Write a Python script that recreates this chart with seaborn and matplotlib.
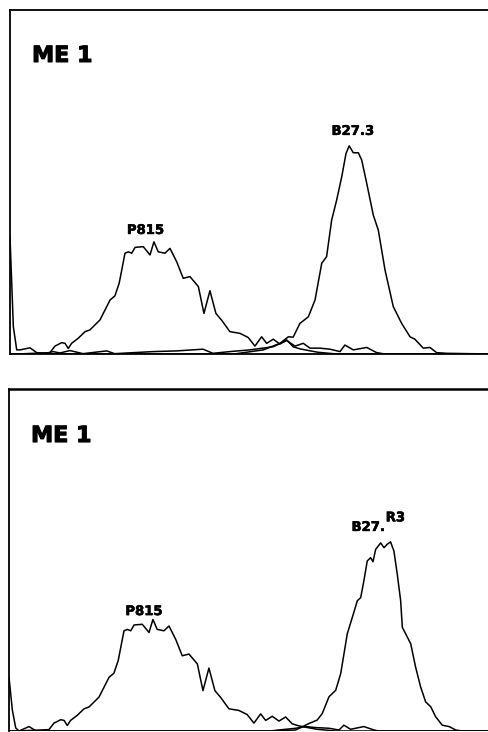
import numpy as np
import pandas as pd
import matplotlib
matplotlib.use('Agg')
import matplotlib.pyplot as plt
import matplotlib.patheffects as pe
import seaborn as sns

# channel (x) and cell count (y)
p815_ch = [0, 4, 21.4, 24.1, 27.7, 29.5, 31.2, 33.0, 36.6, 40.2, 42.8, 48.2, 53.6, 56.2,
           58.5, 61.6, 63.4, 65.2, 67.0, 71.4, 75.0, 77.1, 79.4, 83.0, 85.7, 89.3,
           92.8, 96.4, 100.9, 103.9, 107.1, 110.3, 113.4, 117.8, 123.2, 127.6, 131.2,
           134.8, 137.5, 141.0, 144.6, 148.2, 151.7, 155.3, 160, 165, 175, 258]
p815_cnt = [0, 0, 0.4, 2.3, 3.3, 3.1, 1.6, 3.1, 4.6, 6.5, 7.0, 9.9, 15.7, 16.9,
            20.6, 29.3, 29.7, 29.3, 31.0, 31.2, 28.8, 32.6, 29.7, 29.3, 30.7, 26.8,
            22.0, 22.5, 19.6, 11.8, 18.4, 11.8, 9.8, 6.5, 6.0, 4.8, 2.3,
            5.0, 3.1, 4.3, 2.9, 4.1, 2.1, 1.5, 1.0, 0.5, 0, 0]

b273_ch = [0, 120, 135.7, 144.6, 149.1, 151.7, 155.3, 159.8, 163.4, 167.0, 169.6, 172.3,
           175.0, 177.7, 180.0, 181.7, 183.9, 186.6, 188.4, 191.1, 194.6, 197.3,
           200.9, 205.3, 209.8, 214.3, 216.9, 221.4, 225.0, 228.5, 233.9, 258]
b273_cnt = [0, 0, 1.2, 3.1, 5.0, 4.9, 8.9, 10.8, 15.7, 26.4, 28.3, 38.9,
            44.8, 51.5, 58.3, 60.5, 58.5, 58.5, 56.4, 49.6, 40.4, 36.0,
            24.4, 13.8, 8.9, 5.0, 4.3, 1.7, 1.9, 0.4, 0.2, 0]

ctrl1_ch = [0, 1.8, 3.6, 5.4, 10.7, 14.3, 19.7, 23.0, 26.8, 32.1, 39.1, 51.8, 56.0,
            76.8, 89.3, 103.4, 108.7, 117.8, 128.5, 140.9, 148.2, 152.7, 157.1,
            160.7, 166.0, 171.4, 176.8, 179.4, 183.9, 191.1, 196.4, 200.9, 258]
ctrl1_cnt = [34, 7.9, 1.2, 1.2, 1.8, 0.4, 0.2, 0.7, 0.3, 1.0, 0.1, 0.9, 0.1,
             0.7, 0.9, 1.4, 0.2, 0.7, 1.2, 2.1, 3.9, 2.3, 3.1,
             1.7, 1.7, 1.4, 0.7, 2.6, 1.2, 1.9, 0.4, 0, 0]

br3_ch = [0, 140, 153.6, 160.7, 165.1, 167.8, 171.4, 175.0, 177.7, 181.2, 183.9, 186.6,
          188.4, 190.1, 191.9, 193.7, 195.0, 196.4, 199.1, 200.9, 202.6, 204.4,
          206.2, 208.0, 209.8, 210.7, 212.5, 215.2, 217.8, 220.5, 223.2, 225.9,
          228.5, 232.1, 235.7, 239.3, 242.6, 258]
br3_cnt = [0, 0, 0.3, 2.2, 3.2, 5.1, 10.0, 11.9, 16.8, 28.4, 33.2, 38.1,
           39.0, 43.9, 49.7, 50.7, 49.5, 53.1, 55.0, 53.6, 54.6, 55.3,
           52.6, 45.8, 38.1, 30.3, 28.4, 25.5, 18.7, 12.9, 8.5, 7.1,
           4.2, 1.7, 1.3, 0.3, 0, 0]

ctrl2_ch = [0, 1.8, 3.6, 5.4, 10.7, 14.3, 19.7, 140, 144.6, 153.6, 158.9, 164.3,
            171.4, 176.8, 179.4, 183.0, 190.1, 195.5, 198, 258]
ctrl2_cnt = [15.7, 6.1, 0.9, 0, 1.3, 0.1, 0, 0, 0.3, 0.8, 1.3, 1.0,
             0.8, 0.3, 1.7, 0.5, 1.3, 0.3, 0, 0]

panels = [
    {'curves': [(ctrl1_ch, ctrl1_cnt), (p815_ch, p815_cnt), (b273_ch, b273_cnt)]},
    {'curves': [(ctrl2_ch, ctrl2_cnt), (p815_ch, p815_cnt), (br3_ch, br3_cnt)]},
]

sns.set_style("white")
plt.rcParams['font.family'] = ['DejaVu Sans']

W, H = 488, 732
fig = plt.figure(figsize=(W / 100, H / 100), dpi=100)

# axes boxes in pixels: left, top, bottom
boxes = [(10, 10, 354), (9, 389, 731)]
axes = []
for (left, top, bottom), panel in zip(boxes, panels):
    ax = fig.add_axes([left / W, 1 - bottom / H, 482 / W, (bottom - top) / H])
    for ch, cnt in panel['curves']:
        df = pd.DataFrame({'ch': ch, 'cnt': cnt})
        sns.lineplot(data=df, x='ch', y='cnt', ax=ax, color='black',
                     linewidth=1.1, estimator=None, sort=False)
    ax.set_xlim(0, 258.2)
    ax.set_ylim(0, 100)
    ax.set_xticks([])
    ax.set_yticks([])
    ax.set_xlabel('')
    ax.set_ylabel('')
    for s in ax.spines.values():
        s.set_color('black')
        s.set_linewidth(1.3)
    ax.spines['right'].set_visible(False)
    axes.append(ax)

axes[1].spines['bottom'].set_visible(False)
axes[1].spines['top'].set_linewidth(1.8)

# the print lettering is heavier than DejaVu Bold, so thicken it a little
big = dict(fontsize=16, fontweight='bold', color='black',
           path_effects=[pe.withStroke(linewidth=0.8, foreground='black')])
small = dict(fontsize=9.5, fontweight='bold', color='black',
             path_effects=[pe.withStroke(linewidth=0.4, foreground='black')])

axes[0].text(11.8, 84.9, 'ME 1', ha='left', va='baseline', **big)
axes[0].text(72.6, 34.9, 'P815', ha='center', va='baseline', **small)
axes[0].text(183.7, 63.7, 'B27.3', ha='center', va='baseline', **small)

axes[1].text(11.8, 84.5, 'ME 1', ha='left', va='baseline', **big)
axes[1].text(72.3, 33.9, 'P815', ha='center', va='baseline', **small)
axes[1].text(183.5, 58.5, 'B27.', ha='left', va='baseline', **small)
axes[1].text(201.8, 61.3, 'R3', ha='left', va='baseline', **small)

fig.savefig('out.png', dpi=100)
